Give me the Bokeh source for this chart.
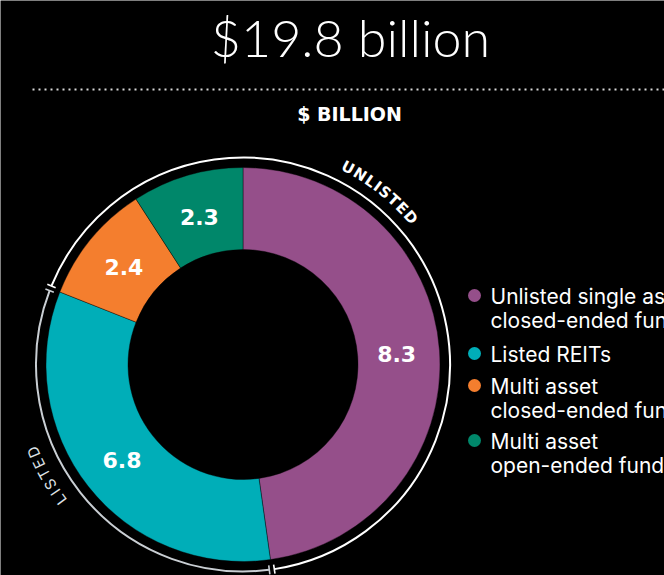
import math
import re
from bokeh.plotting import figure
from bokeh.models import Range1d, ColumnDataSource
from bokeh.core.properties import value
from bokeh.embed import file_html
from bokeh.resources import INLINE

# ---------------- data ----------------
title_text = "$19.8 billion"
unit_text = "$ BILLION"
categories = ["Unlisted single asset closed-ended funds", "Listed REITs",
              "Multi asset closed-ended funds", "Multi asset open-ended funds"]
legend_lines = [["Unlisted single asset", "closed-ended funds"],
                ["Listed REITs"],
                ["Multi asset", "closed-ended funds"],
                ["Multi asset", "open-ended funds"]]
values = [8.3, 6.8, 2.4, 2.3]
value_labels = ["8.3", "6.8", "2.4", "2.3"]
# angular extent of each slice as drawn in the picture (degrees, clockwise from top)
slice_deg = [172.0, 119.6, 35.5, 32.9]
colors = ["#954F8A", "#00AEB8", "#F47E2E", "#00876A"]
group_names = ["UNLISTED", "LISTED"]

# ---------------- layout helpers (screen px -> data) ----------------
W, H = 664, 575
def Y(sy):
    return H - sy

cx, cy = 242.5, Y(364)
r_in, r_out = 115, 197
r_ring = 207

p = figure(width=W, height=H, x_range=Range1d(0, W), y_range=Range1d(0, H),
           toolbar_location=None, output_backend="svg",
           x_axis_location=None, y_axis_location=None, min_border=0)
p.background_fill_color = "black"
p.border_fill_color = "black"
p.outline_line_color = None
p.grid.visible = False

# cumulative boundaries (clockwise from top)
cum = [0.0]
for d in slice_deg:
    cum.append(cum[-1] + d)

def math_ang(theta_deg):
    return math.radians(90 - theta_deg)

src = ColumnDataSource(dict(
    start=[math_ang(cum[i + 1]) for i in range(len(values))],
    end=[math_ang(cum[i]) for i in range(len(values))],
    color=colors, cat=categories, val=values))
p.annular_wedge(x=cx, y=cy, inner_radius=r_in, outer_radius=r_out,
                start_angle="start", end_angle="end", direction="anticlock",
                fill_color="color", line_color="black", line_width=0.4, source=src)

# value labels at slice middles
r_lab = 154
lx, ly = [], []
for i in range(len(values)):
    th = math.radians((cum[i] + cum[i + 1]) / 2)
    lx.append(cx + r_lab * math.sin(th))
    ly.append(cy + r_lab * math.cos(th))
p.text(x=lx, y=ly, text=value_labels, text_color="white",
       text_font=value("DejaVu Sans"), text_font_style="bold", text_font_size="22px",
       text_align="center", text_baseline="middle")

# group ring arcs: LISTED covers slice 1, UNLISTED the rest (wrapping through top)
gap = 0.7
groups = [
    (group_names[0], cum[2] + gap, 360 + cum[1] - gap, "white"),
    (group_names[1], cum[1] + gap, cum[2] - gap, "#c9ced3"),
]
for name, t0, t1, col in groups:
    s = math.radians(90 - t1)
    e = math.radians(90 - t0)
    p.arc(x=cx, y=cy, radius=r_ring, start_angle=s, end_angle=e,
          direction="anticlock", line_color=col, line_width=2)
    xs0, ys0, xs1, ys1 = [], [], [], []
    for t in (t0, t1):
        th = math.radians(t)
        xs0.append(cx + (r_ring - 4.5) * math.sin(th))
        ys0.append(cy + (r_ring - 4.5) * math.cos(th))
        xs1.append(cx + (r_ring + 4.5) * math.sin(th))
        ys1.append(cy + (r_ring + 4.5) * math.cos(th))
    p.segment(x0=xs0, y0=ys0, x1=xs1, y1=ys1, line_color=col, line_width=1.6)

# curved group labels
em_bold = {'U': 0.81, 'N': 0.84, 'L': 0.64, 'I': 0.37, 'S': 0.72, 'T': 0.68, 'E': 0.68, 'D': 0.83}
em_reg = {'U': 0.73, 'N': 0.75, 'L': 0.56, 'I': 0.29, 'S': 0.64, 'T': 0.61, 'E': 0.6, 'D': 0.75}
def curved(word, t_center, span_deg, r, fs, color, font, style, em):
    ws = [em[c] * fs for c in word]
    span_px = math.radians(span_deg) * r
    base = sum((ws[i] + ws[i + 1]) / 2 for i in range(len(ws) - 1))
    track = (span_px - base) / (len(ws) - 1)
    pos = [0.0]
    for i in range(len(ws) - 1):
        pos.append(pos[-1] + (ws[i] + ws[i + 1]) / 2 + track)
    mid = pos[-1] / 2
    xs, ys, angs = [], [], []
    for d in pos:
        t = math.radians(t_center) + (d - mid) / r
        xs.append(cx + r * math.sin(t))
        ys.append(cy + r * math.cos(t))
        angs.append(-t)
    p.text(x=xs, y=ys, text=list(word), angle=angs, text_color=color,
           text_font=value(font), text_font_style=style, text_font_size=f"{fs}px",
           text_align="center", text_baseline="middle")

curved(group_names[0], 38.4, 20.6, 223, 15, "white", "DejaVu Sans", "bold", em_bold)
curved(group_names[1], 240.4, 13.8, 227, 15, "#dde1e5", "Inter", "normal", em_reg)

# title, rule, unit
p.text(x=[350], y=[Y(36)], text=[title_text], text_color="white",
       text_font=value("Lato Light"), text_font_size="52px",
       text_align="center", text_baseline="middle")
p.line(x=[32, 664], y=[Y(89), Y(89)], line_color="#d8d8d8", line_width=2, line_dash="2 4")
p.text(x=[349], y=[Y(113)], text=[unit_text], text_color="white",
       text_font=value("DejaVu Sans"), text_font_style="bold", text_font_size="19px",
       text_align="center", text_baseline="middle")

# legend
marker_y = [295, 353, 385, 440]
p.scatter(x=[474] * 4, y=[Y(v) for v in marker_y], size=13, marker="circle",
          fill_color=colors, line_color=None)
tx, ty, tt = [], [], []
for i, lines in enumerate(legend_lines):
    for j, line in enumerate(lines):
        tx.append(490)
        ty.append(Y(marker_y[i] + 1 + 24 * j))
        tt.append(line)
p.text(x=tx, y=ty, text=tt, text_color="white", text_font=value("Inter"),
       text_font_size="21px", text_align="left", text_baseline="middle")

html = file_html(p, INLINE, title="Chart")
html = re.sub(r"<body([^>]*)>", r'<body\1 style="background-color:#000000;">', html, count=1)
open("out.html", "w").write(html)
